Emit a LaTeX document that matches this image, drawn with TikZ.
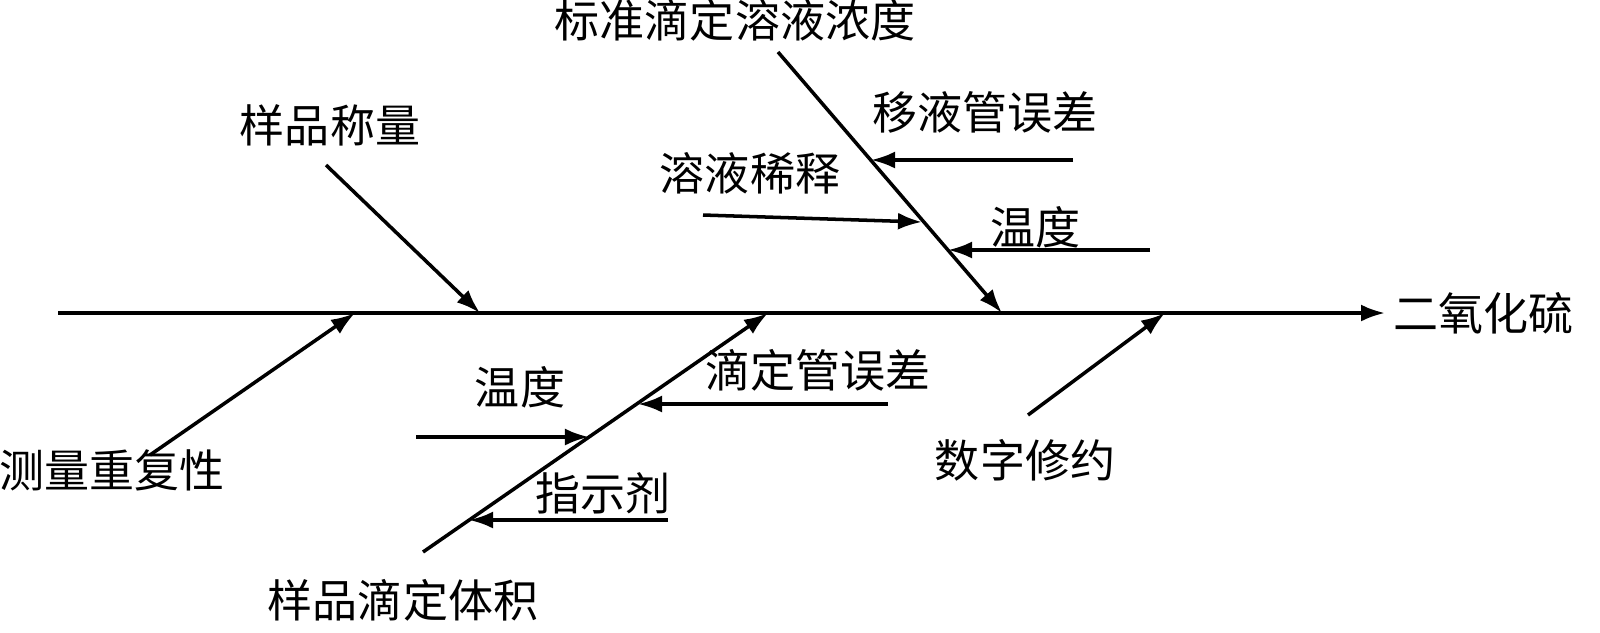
\documentclass[tikz,border=0pt]{standalone}
\usepackage{fontspec}
\setmainfont{Noto Sans CJK SC}
\usepackage{tikz}
\usetikzlibrary{arrows.meta,positioning}

\begin{document}
\begin{tikzpicture}
                    [
                        x=0.01cm, y=-0.01cm,
                        causetext/.style={inner sep=0pt, font=\fontsize{12.8}{15}\selectfont},
                        bone/.style={line width=1pt, -{Latex[length=2.4mm,width=1.7mm]}},
                    ]
                    \useasboundingbox (0,0) rectangle (1600,632);

                    % spine
                    \coordinate (spinestart) at (58,313);
                    \coordinate (spineend) at (1385,313);
                    \node[causetext, anchor=west] (result) at (1393,313) {二氧化硫};
                    \draw[bone] (spinestart) -- (spineend);

                    % main causes
                    \node[causetext] (weighing) at (330,125) {样品称量};
                    \node[causetext] (repeat) at (112,470) {测量重复性};
                    \node[causetext] (standard) at (735,20) {标准滴定溶液浓度};
                    \node[causetext] (volume) at (403,600) {样品滴定体积};
                    \node[causetext] (rounding) at (1025,460) {数字修约};

                    \coordinate (weighing_start) at (326,165);
                    \coordinate (weighing_tip) at (480,313);
                    \coordinate (repeat_start) at (150,455);
                    \coordinate (repeat_tip) at (355,313);
                    \coordinate (standard_start) at (778,52);
                    \coordinate (standard_tip) at (1002,313);
                    \coordinate (volume_start) at (423,552);
                    \coordinate (volume_tip) at (768,313);
                    \coordinate (rounding_start) at (1028,415);
                    \coordinate (rounding_tip) at (1165,313);

                    \draw[bone] (weighing_start) -- (weighing_tip);
                    \draw[bone] (repeat_start) -- (repeat_tip);
                    \draw[bone] (standard_start) -- (standard_tip);
                    \draw[bone] (volume_start) -- (volume_tip);
                    \draw[bone] (rounding_start) -- (rounding_tip);

                    % sub causes of standard solution
                    \node[causetext] (pipette) at (985,112) {移液管误差};
                    \node[causetext] (dilution) at (750,173) {溶液稀释};
                    \node[causetext] (temp1) at (1035,227) {温度};
                    \coordinate (pipette_start) at (1073,160);
                    \coordinate (pipette_tip) at (871,160);
                    \coordinate (dilution_start) at (703,215);
                    \coordinate (dilution_tip) at (922,222);
                    \coordinate (temp1_start) at (1150,250);
                    \coordinate (temp1_tip) at (948,250);
                    \draw[bone] (pipette_start) -- (pipette_tip);
                    \draw[bone] (dilution_start) -- (dilution_tip);
                    \draw[bone] (temp1_start) -- (temp1_tip);

                    % sub causes of titration volume
                    \node[causetext] (burette) at (818,370) {滴定管误差};
                    \node[causetext] (temp2) at (520,387) {温度};
                    \node[causetext] (indicator) at (603,493) {指示剂};
                    \coordinate (burette_start) at (888,404);
                    \coordinate (burette_tip) at (638,404);
                    \coordinate (temp2_start) at (416,437);
                    \coordinate (temp2_tip) at (589,437);
                    \coordinate (indicator_start) at (668,520);
                    \coordinate (indicator_tip) at (469,520);
                    \draw[bone] (burette_start) -- (burette_tip);
                    \draw[bone] (temp2_start) -- (temp2_tip);
                    \draw[bone] (indicator_start) -- (indicator_tip);

                \end{tikzpicture}
\end{document}
